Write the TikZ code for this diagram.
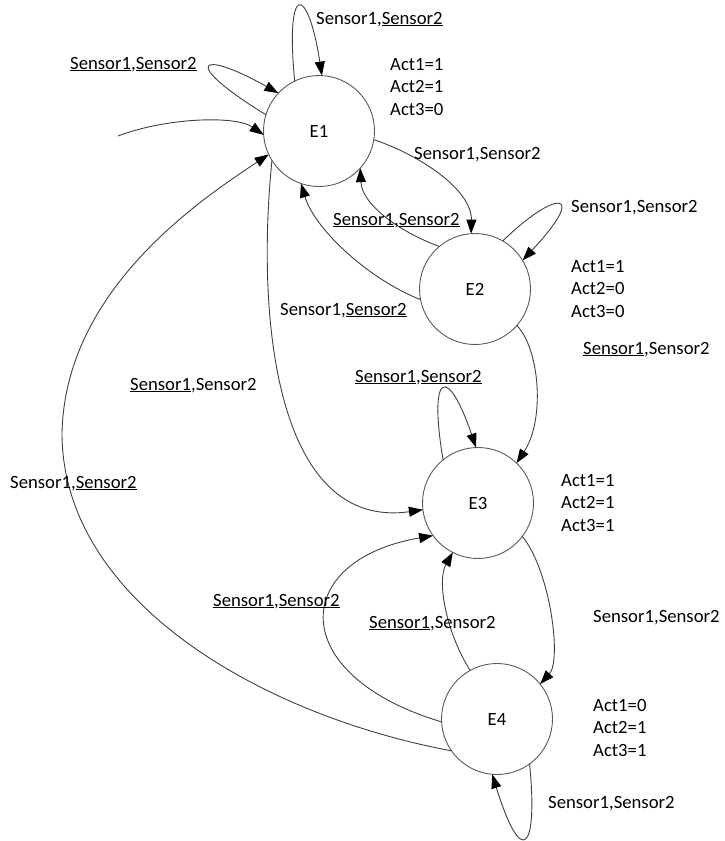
\documentclass[tikz,border=0pt]{standalone}
\usepackage{fontspec}
\setmainfont{Carlito}
\usetikzlibrary{arrows.meta}
\newcommand\labfont{\fontsize{18.7}{22.5}\selectfont}
\newcommand\ul[1]{\underline{#1}}
\newcommand\actlist[3]{\begin{tabular}[t]{@{}l@{}}#1\\#2\\#3\end{tabular}}
\begin{document}
\begin{tikzpicture}[x=1pt,y=-1pt,
  state/.style={circle,draw=black!65,line width=0.9pt,minimum size=111pt,inner sep=0pt,outer sep=0pt,font=\labfont},
  trans/.style={draw=black!75,line width=0.9pt,-{Triangle[length=14pt,width=10pt,color=black]}},
  lab/.style={anchor=base west,inner sep=0pt,font=\labfont},
  acts/.style={anchor=base west,inner sep=0pt,font=\labfont}]
\useasboundingbox (0,0) rectangle (724,841);

% states
\node[state] (E1) at (319,131) {E1};
\node[state] (E2) at (475,289) {E2};
\node[state] (E3) at (478,503) {E3};
\node[state] (E4) at (497,719) {E4};

% free start of the entry arrow
\coordinate (start) at (118,136);

% outputs of each state
\node[acts] (A1) at (390,70)  {\actlist{Act1=1}{Act2=1}{Act3=0}};
\node[acts] (A2) at (571,272) {\actlist{Act1=1}{Act2=0}{Act3=0}};
\node[acts] (A3) at (561,486) {\actlist{Act1=1}{Act2=1}{Act3=1}};
\node[acts] (A4) at (593,711) {\actlist{Act1=0}{Act2=1}{Act3=1}};

% entry arrow
\draw[trans] (start) .. controls (165,118) and (235,115) .. (E1.184);

% E1 transitions
\draw[trans] (E1.116) .. controls (285,-20) and (308,-15) .. (E1.87);
\draw[trans] (E1.163) .. controls (180,62) and (198,48) .. (E1.137);
\draw[trans] (E1.351) .. controls (420,155) and (472,190) .. (E2.94);
\draw[trans] (E1.212) .. controls (255,330) and (280,530) .. (E3.187);

% E2 transitions
\draw[trans] (E2.130) .. controls (400,232) and (362,205) .. (E1.318);
\draw[trans] (E2.191) .. controls (370,280) and (315,230) .. (E1.251);
\draw[trans] (E2.60) .. controls (555,190) and (590,188) .. (E2.31);
\draw[trans] (E2.319) .. controls (540,350) and (545,420) .. (E3.46);

% E3 transitions
\draw[trans] (E3.129) .. controls (428,370) and (448,365) .. (E3.92);
\draw[trans] (E3.323) .. controls (550,570) and (562,660) .. (E4.39);

% E4 transitions
\draw[trans] (E4.183) .. controls (285,675) and (290,560) .. (E3.216);
\draw[trans] (E4.119) .. controls (445,630) and (437,580) .. (E3.243);
\draw[trans] (E4.306) .. controls (538,850) and (522,870) .. (E4.265);
\draw[trans] (E4.215) .. controls (260,715) and (62,600) .. (62,433)
                      .. controls (65,290) and (200,200) .. (E1.205);

% transition labels
\node[lab] (L1)  at (316,24)  {Sensor1,\ul{Sensor2}};
\node[lab] (L2)  at (70,69)   {\ul{Sensor1},\ul{Sensor2}};
\node[lab] (L3)  at (414,159) {Sensor1,Sensor2};
\node[lab] (L4)  at (333,225) {\ul{Sensor1},\ul{Sensor2}};
\node[lab] (L5)  at (280,315) {Sensor1,\ul{Sensor2}};
\node[lab] (L6)  at (571,212) {Sensor1,Sensor2};
\node[lab] (L7)  at (583,354) {\ul{Sensor1},Sensor2};
\node[lab] (L8)  at (355,382) {\ul{Sensor1},\ul{Sensor2}};
\node[lab] (L9)  at (130,390) {\ul{Sensor1},Sensor2};
\node[lab] (L10) at (10,488)  {Sensor1,\ul{Sensor2}};
\node[lab] (L11) at (213,606) {\ul{Sensor1},\ul{Sensor2}};
\node[lab] (L12) at (369,628) {\ul{Sensor1},Sensor2};
\node[lab] (L13) at (593,622) {Sensor1,Sensor2};
\node[lab] (L14) at (548,808) {Sensor1,Sensor2};
\end{tikzpicture}
\end{document}
